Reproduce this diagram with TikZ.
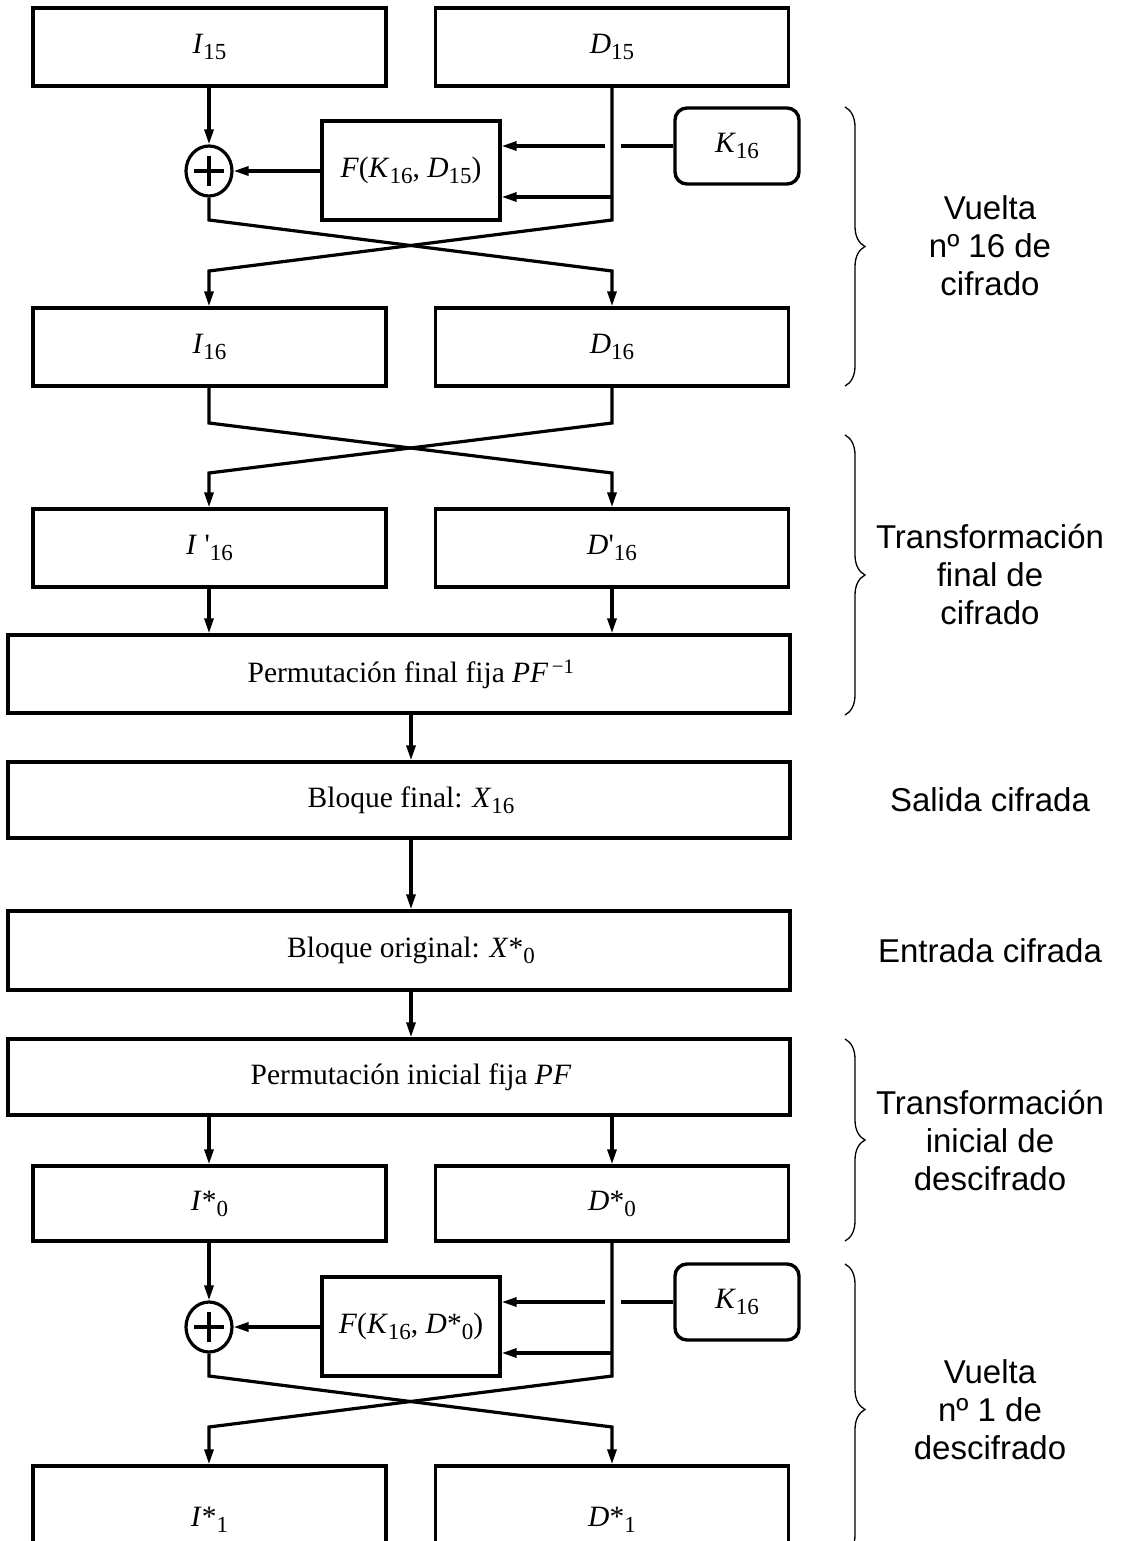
\documentclass[tikz,border=0pt]{standalone}
\usepackage{fontspec}
\setmainfont{Liberation Serif}
\newfontfamily\lblfont{Liberation Sans}
\usepackage{tikz}
\usetikzlibrary{arrows.meta,shapes.geometric,decorations.pathreplacing}
\newcommand{\lowi}[1]{\raisebox{-6pt}{\fontsize{23pt}{23pt}\selectfont #1}}

\tikzset{
	blk/.style={draw, line width=3.4pt, minimum width=353pt, minimum height=78pt, inner sep=0pt, font=\fontsize{29.5pt}{34pt}\selectfont},
	wideblk/.style={blk, minimum width=782pt},
	keyblk/.style={blk, rounded corners=12pt, minimum width=124pt, minimum height=76pt},
	fblk/.style={blk, minimum width=178pt, minimum height=99pt},
	xorc/.style={ellipse, draw, line width=3.2pt, minimum width=46pt, minimum height=50pt, inner sep=0pt},
	txt/.style={inner sep=0pt, font=\fontsize{29.5pt}{34pt}\selectfont},
	wire/.style={line width=3.2pt},
	arr/.style={wire, -{Triangle[length=15pt,width=9pt]}},
	grp/.style={decorate, decoration={brace, amplitude=20pt}, line width=1.3pt},
	lbl/.style={align=center, font=\lblfont\fontsize{33pt}{38pt}\selectfont}
}

\begin{document}
\begin{tikzpicture}[x=1pt, y=-1pt]
			%%%%% START %%%%%
			\useasboundingbox (0,0) rectangle (1121,1541);
			\clip (0,0) rectangle (1121,1541);
			
			% vuelta 16 de cifrado
			\node[blk] (i15) at (209.5,47) {\textit{I}\lowi{15}};
			\node[blk] (d15) at (612,47) {\textit{D}\lowi{15}};
			\node[keyblk] (k1) at (737,146) {\textit{K}\lowi{16}};
			\node[fblk] (f1) at (411,170.5) {\textit{F}(\textit{K}\lowi{16}, \textit{D}\lowi{15})};
			\node[xorc] (x1) at (209,171) {};
			\draw[wire] ([xshift=-15pt]x1.center) -- ([xshift=15pt]x1.center);
			\draw[wire] ([yshift=-15pt]x1.center) -- ([yshift=15pt]x1.center);
			\node[blk] (i16) at (209.5,347) {\textit{I}\lowi{16}};
			\node[blk] (d16) at (612,347) {\textit{D}\lowi{16}};
			
			\coordinate (g1r) at (621,146);
			\coordinate (g1l) at (605,146);
			\coordinate (t1) at (612,197);
			\coordinate (c1a) at (209,220);
			\coordinate (c1b) at (612,271);
			\coordinate (c1c) at (612,220);
			\coordinate (c1d) at (209,271);
			
			\draw[arr] (i15.south -| x1) -- (x1.north);
			\draw[arr] (f1.west |- x1) -- (x1.east);
			\draw[wire] (k1.west) -- (g1r);
			\draw[arr] (g1l) -- (f1.east |- g1l);
			\draw[arr] (t1) -- (f1.east |- t1);
			\draw[arr] (x1.south) -- (c1a) -- (c1b) -- (d16.north);
			\draw[arr] (d15.south) -- (c1c) -- (c1d) -- (i16.north -| c1d);
			
			% transformacion final
			\node[blk] (ip16) at (209.5,548) {\textit{I} \textquotesingle\lowi{16}};
			\node[blk] (dp16) at (612,548) {\textit{D}\textquotesingle\lowi{16}};
			\coordinate (c2a) at (209,423);
			\coordinate (c2b) at (612,473);
			\coordinate (c2c) at (612,423);
			\coordinate (c2d) at (209,473);
			\draw[arr] (i16.south -| c2a) -- (c2a) -- (c2b) -- (dp16.north);
			\draw[arr] (d16.south) -- (c2c) -- (c2d) -- (ip16.north -| c2d);
			
			\node[wideblk] (pf) at (399,674) {};
			\node[txt] (pft) at (411,674) {Permutación final fija \textit{PF}\textsuperscript{\,−1}};
			\draw[arr] (ip16.south -| c2d) -- (pf.north -| c2d);
			\draw[arr] (dp16.south) -- (pf.north -| dp16);
			
			% bloques
			\node[wideblk, minimum height=76pt] (bf) at (399,800) {};
			\node[txt] (bft) at (411,800) {Bloque final: \textit{X}\lowi{16}};
			\node[wideblk, minimum height=79pt] (bo) at (399,950.5) {};
			\node[txt] (bot) at (411,950.5) {Bloque original: \textit{X}*\lowi{0}};
			\draw[arr] (pf.south -| pft) -- (bf.north -| pft);
			\draw[arr] (bf.south -| pft) -- (bo.north -| pft);
			
			% transformacion inicial
			\node[wideblk, minimum height=76pt] (pi) at (399,1077) {};
			\node[txt] (pit) at (411,1077) {Permutación inicial fija \textit{PF}};
			\draw[arr] (bo.south -| pft) -- (pi.north -| pft);
			\node[blk, minimum height=75pt] (i0) at (209.5,1203.5) {\textit{I}*\lowi{0}};
			\node[blk, minimum height=75pt] (d0) at (612,1203.5) {\textit{D}*\lowi{0}};
			\draw[arr] (pi.south -| x1) -- (i0.north -| x1);
			\draw[arr] (pi.south -| d0) -- (d0.north);
			
			% vuelta 1 de descifrado
			\node[keyblk] (k2) at (737,1302) {\textit{K}\lowi{16}};
			\node[fblk] (f2) at (411,1326.5) {\textit{F}(\textit{K}\lowi{16}, \textit{D}*\lowi{0})};
			\node[xorc] (x2) at (209,1327) {};
			\draw[wire] ([xshift=-15pt]x2.center) -- ([xshift=15pt]x2.center);
			\draw[wire] ([yshift=-15pt]x2.center) -- ([yshift=15pt]x2.center);
			\node[blk, minimum height=108pt] (i1) at (209.5,1520) {\textit{I}*\lowi{1}};
			\node[blk, minimum height=108pt] (d1) at (612,1520) {\textit{D}*\lowi{1}};
			
			\coordinate (g2r) at (621,1302);
			\coordinate (g2l) at (605,1302);
			\coordinate (t2) at (612,1353);
			\coordinate (c3a) at (209,1376);
			\coordinate (c3b) at (612,1427);
			\coordinate (c3c) at (612,1376);
			\coordinate (c3d) at (209,1427);
			
			\draw[arr] (i0.south -| x2) -- (x2.north);
			\draw[arr] (f2.west |- x2) -- (x2.east);
			\draw[wire] (k2.west) -- (g2r);
			\draw[arr] (g2l) -- (f2.east |- g2l);
			\draw[arr] (t2) -- (f2.east |- t2);
			\draw[arr] (x2.south) -- (c3a) -- (c3b) -- (d1.north);
			\draw[arr] (d0.south) -- (c3c) -- (c3d) -- (i1.north -| c3d);
			
			% llaves y textos
			\draw[grp] (845,107) -- (845,386);
			\draw[grp] (845,435) -- (845,715);
			\draw[grp] (845,1039) -- (845,1241);
			\draw[grp] (845,1264) -- (845,1555);
			\node[lbl] (l1) at (990,246) {Vuelta\\nº 16 de\\cifrado};
			\node[lbl] (l2) at (990,575) {Transformación\\final de\\cifrado};
			\node[lbl] (l3) at (990,800) {Salida cifrada};
			\node[lbl] (l4) at (990,950.5) {Entrada cifrada};
			\node[lbl] (l5) at (990,1140) {Transformación\\inicial de\\descifrado};
			\node[lbl] (l6) at (990,1410) {Vuelta\\nº 1 de\\descifrado};
			%%%%% END %%%%%
\end{tikzpicture}
\end{document}
